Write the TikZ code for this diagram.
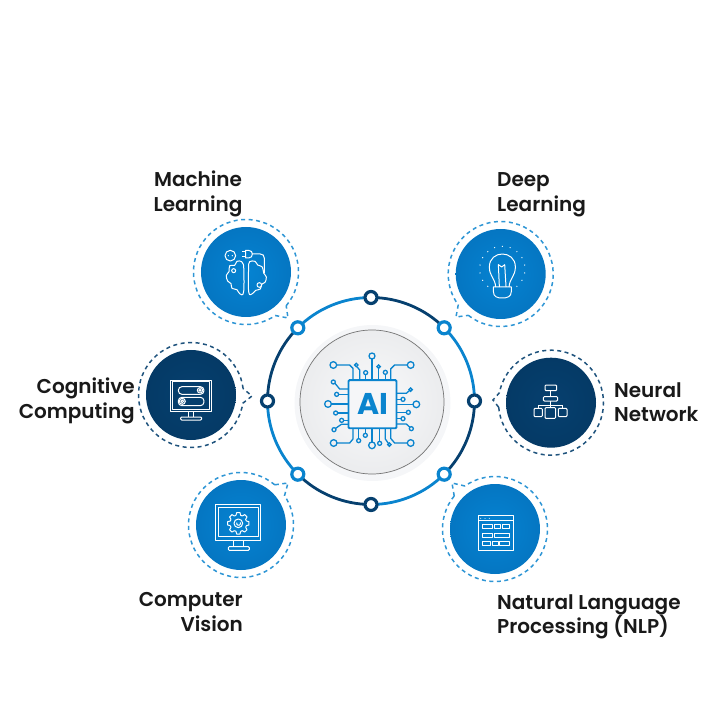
\documentclass[tikz,border=0pt]{standalone}
\usepackage{fontspec}
\setmainfont{Poppins SemiBold}[BoldFont=Poppins Bold]
\usepackage{tikz}
\usetikzlibrary{calc}
\definecolor{lightring}{HTML}{0A84CE}
\definecolor{darkring}{HTML}{06406F}
\definecolor{discblue}{HTML}{0583D2}
\definecolor{discshade}{HTML}{0576C2}
\definecolor{darkshade}{HTML}{053A66}
\definecolor{coregray}{HTML}{F5F6F8}
\tikzset{
  bluedisc/.style={circle,minimum size=90pt,inner sep=0pt,inner color=discblue,outer color=discshade},
  darkdisc/.style={circle,minimum size=90pt,inner sep=0pt,inner color=darkring,outer color=darkshade},
  bluedash/.style={draw=lightring!85,line width=1.5pt,dash pattern=on 4pt off 3.5pt},
  darkdash/.style={draw=darkring!90,line width=1.5pt,dash pattern=on 4pt off 3.5pt},
  lightport/.style={circle,draw=lightring,fill=white,line width=3.2pt,minimum size=12pt,inner sep=0pt},
  darkport/.style={circle,draw=darkring,fill=white,line width=3.2pt,minimum size=12pt,inner sep=0pt},
  lightarc/.style={draw=lightring,line width=2.8pt},
  darkarc/.style={draw=darkring,line width=2.8pt},
  iconline/.style={draw=white,line width=1pt,line join=round},
  pinline/.style={draw=lightring,line width=1.3pt},
  topic/.style={font=\fontsize{20}{24.5}\selectfont,text=black!90,inner sep=0pt},
  zoomed/.style 2 args={shift={#1},x=.33333pt,y=-.33333pt,shift={#2}}
}
\begin{document}
\begin{tikzpicture}[x=1pt,y=1pt]
\useasboundingbox (-371,-319) rectangle (349,401);
% core
\node[circle,fill=coregray,minimum size=156pt,inner sep=0pt] (core) at (1.5,-2) {};
\node[circle,draw=black!55,line width=.7pt,inner color=white!40!coregray,outer color=coregray!96!black,minimum size=144pt,inner sep=0pt] (corering) at (1,-1) {};
\node[draw=lightring,line width=1.9pt,fill=coregray,rounded corners=1pt,minimum size=48pt,inner sep=0pt,
  text=lightring,font=\fontsize{30}{30}\selectfont\bfseries] (chip) at (1.5,-3.2) {AI};
% chip wires
\begin{scope}[zoomed={(0,0)}{(-334,-348)}]
\foreach \pinx/\piny/\pinr/\pinwire in {
  221/240/10/{(280,285)--(280,250)--(270,240)--(231,240)},
  290/240/5/{(300,285)--(300,255)--(292,245)},
  318/263/6/{(318,285)--(318,269)},
  337/213/9/{(337,285)--(337,222)},
  357/245/5/{(357,285)--(357,250)},
  377/262/6/{(377,285)--(377,268)},
  453/240/10/{(393,285)--(393,252)--(405,240)--(443,240)},
  221/291/6/{(265,312)--(240,312)--(226,295)},
  231/328/6/{(265,328)--(237,328)},
  205/357/10/{(265,357)--(215,357)},
  228/384/6/{(265,384)--(234,384)},
  246/406/6/{(265,406)--(252,406)},
  223/434/6/{(265,418)--(245,418)--(228,430)},
  453/314/5/{(412,325)--(440,325)--(449,317)},
  430/343/6/{(412,343)--(424,343)},
  470/358/10/{(412,358)--(460,358)},
  446/382/6/{(412,382)--(440,382)},
  430/401/6/{(412,401)--(424,401)},
  455/431/6/{(412,417)--(440,417)--(451,427)},
  222/474/10/{(280,430)--(280,462)--(270,474)--(232,474)},
  297/467/6/{(297,430)--(297,461)},
  317/451/6/{(317,430)--(317,445)},
  337/481/10/{(337,430)--(337,471)},
  360/475/6/{(360,430)--(360,469)},
  389/479/5/{(377,430)--(377,462)--(386,475)},
  453/474/10/{(393,430)--(393,460)--(405,474)--(443,474)}}
  {\draw[pinline] \pinwire;
   \draw[pinline] (\pinx,\piny) circle[radius=\pinr];}
\end{scope}
% ring
\coordinate (ptop) at (90:103.5);
\coordinate (pur) at (45:103.5);
\coordinate (pright) at (0:103.5);
\coordinate (plr) at (-45:103.5);
\coordinate (pbottom) at (-90:103.5);
\coordinate (pll) at (-135:103.5);
\coordinate (pleft) at (180:103.5);
\coordinate (pul) at (135:103.5);
\path[lightarc] (pul) to[bend left=22.5,looseness=.885] (ptop);
\path[darkarc] (ptop) to[bend left=22.5,looseness=.885] (pur);
\path[lightarc] (pur) to[bend left=22.5,looseness=.885] (pright);
\path[darkarc] (pright) to[bend left=22.5,looseness=.885] (plr);
\path[lightarc] (plr) to[bend left=22.5,looseness=.885] (pbottom);
\path[darkarc] (pbottom) to[bend left=22.5,looseness=.885] (pll);
\path[lightarc] (pll) to[bend left=22.5,looseness=.885] (pleft);
\path[darkarc] (pleft) to[bend left=22.5,looseness=.885] (pul);
\foreach \portname/\portstyle in {ptop/darkport,pur/lightport,pright/darkport,plr/lightport,pbottom/darkport,pll/lightport,pleft/darkport,pul/lightport}
  \node[\portstyle] (\portname dot) at (\portname) {};
% discs
\node[bluedisc] (ml) at (-125,129) {};
\node[bluedisc] (dl) at (129.7,127) {};
\node[darkdisc] (cc) at (-180,6) {};
\node[darkdisc] (nn) at (180,-1.7) {};
\node[bluedisc] (cv) at (-130,-124) {};
\node[bluedisc] (nlp) at (124,-128) {};
\coordinate (tipml) at (-83,83);
\coordinate (tipdl) at (85,84);
\coordinate (tipcc) at (-119,5);
\coordinate (tipnn) at (122,1);
\coordinate (tipcv) at (-83,-82);
\coordinate (tipnlp) at (81,-82);
\foreach \disc/\tip/\dir/\dashstyle in {ml/tipml/-48/bluedash,dl/tipdl/224/bluedash,cc/tipcc/-1/darkdash,nn/tipnn/177/darkdash,cv/tipcv/42/bluedash,nlp/tipnlp/133/bluedash}
  \draw[\dashstyle] ($(\disc)+(\dir+8:52.5)$) arc[start angle=\dir+8,end angle=\dir+352,radius=52.5] -- (\tip) -- cycle;
% machine learning icon
\begin{scope}[zoomed={(-125,129)}{(-197,-187)},iconline]
\draw (150,138) circle[radius=16];
\fill[white] (144,138) circle[radius=2] (156,138) circle[radius=2];
\draw (185,127)--(196,127) (185,140)--(196,140);
\draw (196,122)--(205,122) .. controls (213,122) and (216,128) .. (216,133) .. controls (216,139) and (213,145) .. (205,145)--(196,145)--cycle;
\draw (216,133)--(240,133) .. controls (248,133) and (252,138) .. (252,146)--(252,190);
\draw plot[smooth,tension=.7] coordinates {(190,168) (184,156) (170,155) (163,167) (148,168) (146,186) (138,197) (142,214) (152,222) (155,236) (170,240) (178,252) (190,246) (190,168)};
\draw plot[smooth,tension=.7] coordinates {(205,168) (208,156) (224,155) (232,166) (246,172) (250,190) (258,202) (254,218) (244,224) (240,238) (226,242) (216,252) (205,246) (205,168)};
\draw (160,183) circle[radius=6] (237,226) circle[radius=7];
\end{scope}
% deep learning icon
\begin{scope}[zoomed={(129.7,127)}{(-182,-193)},iconline]
\draw (167,232) .. controls (165,205) and (148,200) .. (148,172) .. controls (148,120) and (226,120) .. (226,172) .. controls (226,200) and (209,205) .. (207,232);
\draw (160,232)--(214,232)--(214,245) .. controls (214,262) and (200,265) .. (187,265) .. controls (172,265) and (160,262) .. (160,245)--cycle;
\draw (178,232)--(175,165)--(185,172)--(194,165)--(198,232);
\foreach \ang in {-230,-210,...,50}
  \fill[white] (187,178)+(\ang:68) circle[radius=2];
\end{scope}
% cognitive computing icon
\begin{scope}[zoomed={(-180,6)}{(-183,-165)},iconline]
\draw (122,120) rectangle (245,213) (127,125) rectangle (240,208);
\draw[rounded corners=3.6pt] (145,140) rectangle (222,163) (145,172) rectangle (222,197);
\draw (210,151) circle[radius=8] (157,184) circle[radius=9] (157,184) circle[radius=4] (210,151) circle[radius=3];
\draw (175,213)--(175,231) (192,213)--(192,231);
\draw[rounded corners=1pt] (152,231) rectangle (215,240);
\end{scope}
% neural network icon
\begin{scope}[zoomed={(180,-1.7)}{(-183,-188)},iconline]
\draw[rounded corners=1pt] (165,135) rectangle (200,152) (160,170) rectangle (203,183);
\draw (182,152)--(182,170) (182,183)--(182,203) (145,195)--(218,195) (145,195)--(145,205) (218,195)--(218,205);
\draw[rounded corners=1pt] (132,205) rectangle (157,230) (165,203) rectangle (197,235) (205,205) rectangle (231,230);
\end{scope}
% computer vision icon
\begin{scope}[zoomed={(-130,-124)}{(-183,-180)},iconline]
\draw (107,118) rectangle (243,225) (115,127) rectangle (235,215);
\foreach \ang in {0,45,...,315}
  \draw[rotate around={\ang:(175,175)}] (168,151)--(170,143)--(180,143)--(182,151)--(187,153);
\draw (175,175) circle[radius=13];
\draw (181,172) arc[start angle=-30,end angle=200,radius=6];
\draw (162,225)--(162,245) (190,225)--(190,245);
\draw[rounded corners=1pt] (145,245) rectangle (208,256);
\end{scope}
% language processing icon
\begin{scope}[zoomed={(124,-128)}{(-180,-192)},iconline]
\draw (130,152) rectangle (235,257) (130,165)--(235,165);
\fill[white] (137,160) circle[radius=1.5] (150,160) circle[radius=1.5] (163,160) circle[radius=1.5];
\draw (141,178) rectangle (172,191) (178,178) rectangle (197,191) (202,178) rectangle (223,191);
\draw (141,204) rectangle (172,216) (178,204) rectangle (223,216);
\draw (141,228) rectangle (167,241) (172,228) rectangle (190,241) (193,228) rectangle (223,241);
\end{scope}
% labels
\node[topic,align=center] (mllabel) at (-173,207) {Machine\\Learning};
\node[topic,align=left,anchor=west] (dllabel) at (126,206) {Deep\\Learning};
\node[topic,align=right,anchor=east] (cclabel) at (-236,0) {Cognitive\\Computing};
\node[topic,align=left,anchor=west] (nnlabel) at (243,-1) {Neural\\Network};
\node[topic,align=right,anchor=east] (cvlabel) at (-128,-211) {Computer\\Vision};
\node[topic,align=left,anchor=west] (nlplabel) at (126,-216) {Natural Language\\Processing (NLP)};
\end{tikzpicture}
\end{document}
